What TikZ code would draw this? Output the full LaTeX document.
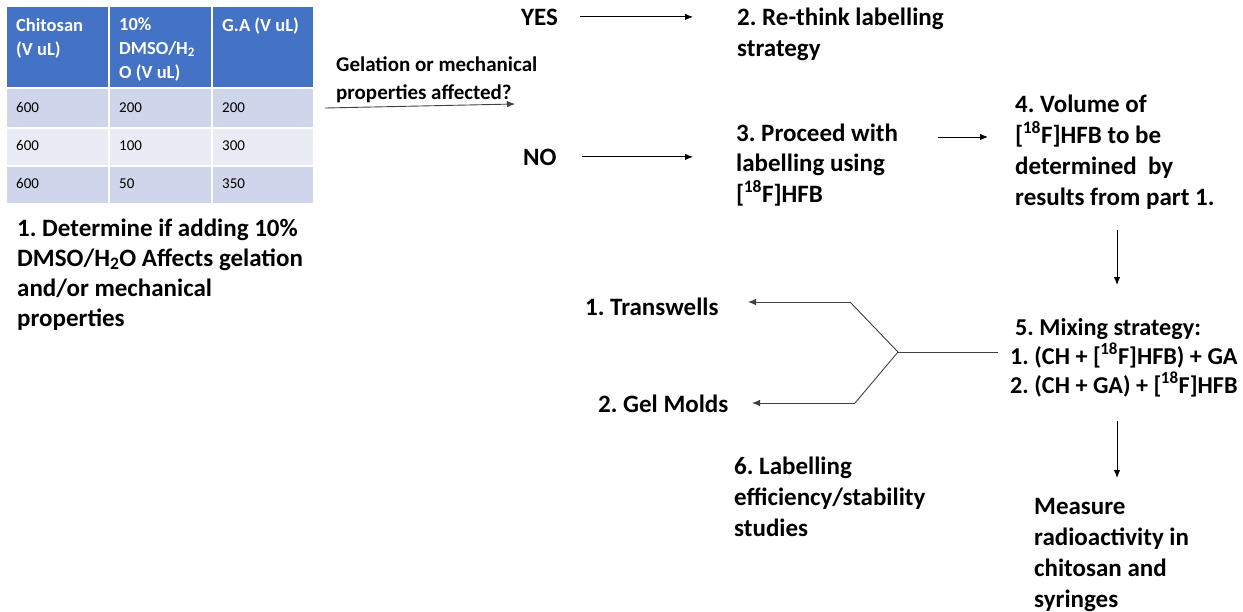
\documentclass[tikz,border=0pt]{standalone}
\usepackage{fontspec}
\setmainfont{Carlito}
\usetikzlibrary{arrows.meta}
\definecolor{hdr}{HTML}{4472C4}
\definecolor{rowA}{HTML}{CFD5EA}
\definecolor{rowB}{HTML}{E9EBF5}
\definecolor{lnc}{HTML}{404040}
\frenchspacing
\newcommand{\isot}{{[}\textsuperscript{\kern-0.5pt 18}F{]}}
\begin{document}
\begin{tikzpicture}[x=1pt,y=-1pt,
  txt/.style={anchor=base west,inner sep=0pt,align=left,font=\fontsize{25}{30.5}\selectfont\bfseries},
  txtw/.style={anchor=base west,inner sep=0pt,align=left,font=\fontsize{25}{31}\selectfont\bfseries},
  qtxt/.style={anchor=base west,inner sep=0pt,align=left,font=\fontsize{21}{28}\selectfont\bfseries},
  hd/.style={anchor=base west,inner sep=0pt,align=left,text=white,font=\fontsize{18.5}{24}\selectfont\bfseries},
  num/.style={anchor=base west,inner sep=0pt,font=\fontsize{15}{18}\selectfont},
  arr/.style={-{Latex[length=8pt,width=6.5pt]},line width=0.9pt,draw=black},
  ln/.style={line width=0.9pt,draw=lnc}]
\useasboundingbox (0,0) rectangle (1243,611);
% table cells
\fill[hdr] (7,7) rectangle (108,87);
\fill[hdr] (110,7) rectangle (211,87);
\fill[hdr] (213,7) rectangle (313,87);
\fill[rowA] (7,89) rectangle (108,127);
\fill[rowA] (110,89) rectangle (211,127);
\fill[rowA] (213,89) rectangle (313,127);
\fill[rowB] (7,129) rectangle (108,165);
\fill[rowB] (110,129) rectangle (211,165);
\fill[rowB] (213,129) rectangle (313,165);
\fill[rowA] (7,167) rectangle (108,203);
\fill[rowA] (110,167) rectangle (211,203);
\fill[rowA] (213,167) rectangle (313,203);
% (multi-line nodes are placed at the baseline of their last line)
\node[hd] (h1) at (16,55) {Chitosan\\(V uL)};
\node[hd] (h2) at (119,78) {10\%\\DMSO/H\textsubscript{2}\\O (V uL)};
\node[hd] (h3) at (222,31) {G.A (V uL)};
\node[num] (r11) at (16,112) {600};
\node[num] (r12) at (119,112) {200};
\node[num] (r13) at (222,112) {200};
\node[num] (r21) at (16,150) {600};
\node[num] (r22) at (119,150) {100};
\node[num] (r23) at (222,150) {300};
\node[num] (r31) at (16,188) {600};
\node[num] (r32) at (119,188) {50};
\node[num] (r33) at (222,188) {350};
% texts
\node[txt,font=\fontsize{25}{30}\selectfont\bfseries] (cap) at (17,326) {1. Determine if adding 10\%\\DMSO/H\textsubscript{2}O Affects gelation\\and/or mechanical\\properties};
\node[qtxt] (q) at (336,99) {Gelation or mechanical\\properties affected?};
\node[txt] (yes) at (521,25) {YES};
\node[txt] (no) at (523,165) {NO};
\node[txt] (rethink) at (737,56) {2. Re-think labelling\\strategy};
\node[txt] (proceed) at (736,202) {3. Proceed with\\labelling using\\\isot HFB};
\node[txtw] (volume) at (1015,205) {4. Volume of\\\isot HFB to be\\determined\ \ by\\results from part 1.};
\node[txt,font=\fontsize{24.2}{29}\selectfont\bfseries] (mixing) at (1010,393) {\hspace{5pt}5. Mixing strategy:\\1. (CH + \isot HFB) + GA\\2. (CH + GA) + \isot HFB};
\node[txt] (trans) at (585,315) {1. Transwells};
\node[txt] (gel) at (598,412) {2. Gel Molds};
\node[txtw] (label) at (734,536) {6. Labelling\\efficiency/stability\\studies};
\node[txtw] (measure) at (1034,607) {Measure\\radioactivity in\\chitosan and\\syringes};
% connectors
\coordinate (tabR) at (325,108);
\coordinate (qend) at (515,104);
\draw[arr,draw=lnc] (tabR) -- (qend);
\draw[arr,shorten <=22pt,shorten >=44pt] (yes.east) -- (yes.east -| rethink.west);
\draw[arr,shorten <=25pt,shorten >=43pt] (no.east) -- (no.east -| proceed.west);
\coordinate (p34) at (938,137);
\draw[arr,shorten >=27pt] (p34) -- (p34 -| volume.west);
\coordinate (v45a) at (1117,230);
\coordinate (v45b) at (1117,285);
\draw[arr] (v45a) -- (v45b);
\coordinate (v5ma) at (1117,421);
\coordinate (v5mb) at (1117,478);
\draw[arr] (v5ma) -- (v5mb);
\coordinate (fork) at (898,352);
\coordinate (mixin) at (998,352);
\coordinate (k1) at (850,302);
\coordinate (k2) at (855,403);
\coordinate (t1) at (748,302);
\coordinate (t2) at (752,403);
\draw[ln] (mixin) -- (fork);
\draw[ln] (fork) -- (k1);
\draw[ln] (fork) -- (k2);
\draw[arr,draw=lnc] (k1) -- (t1);
\draw[arr,draw=lnc] (k2) -- (t2);
\end{tikzpicture}
\end{document}
